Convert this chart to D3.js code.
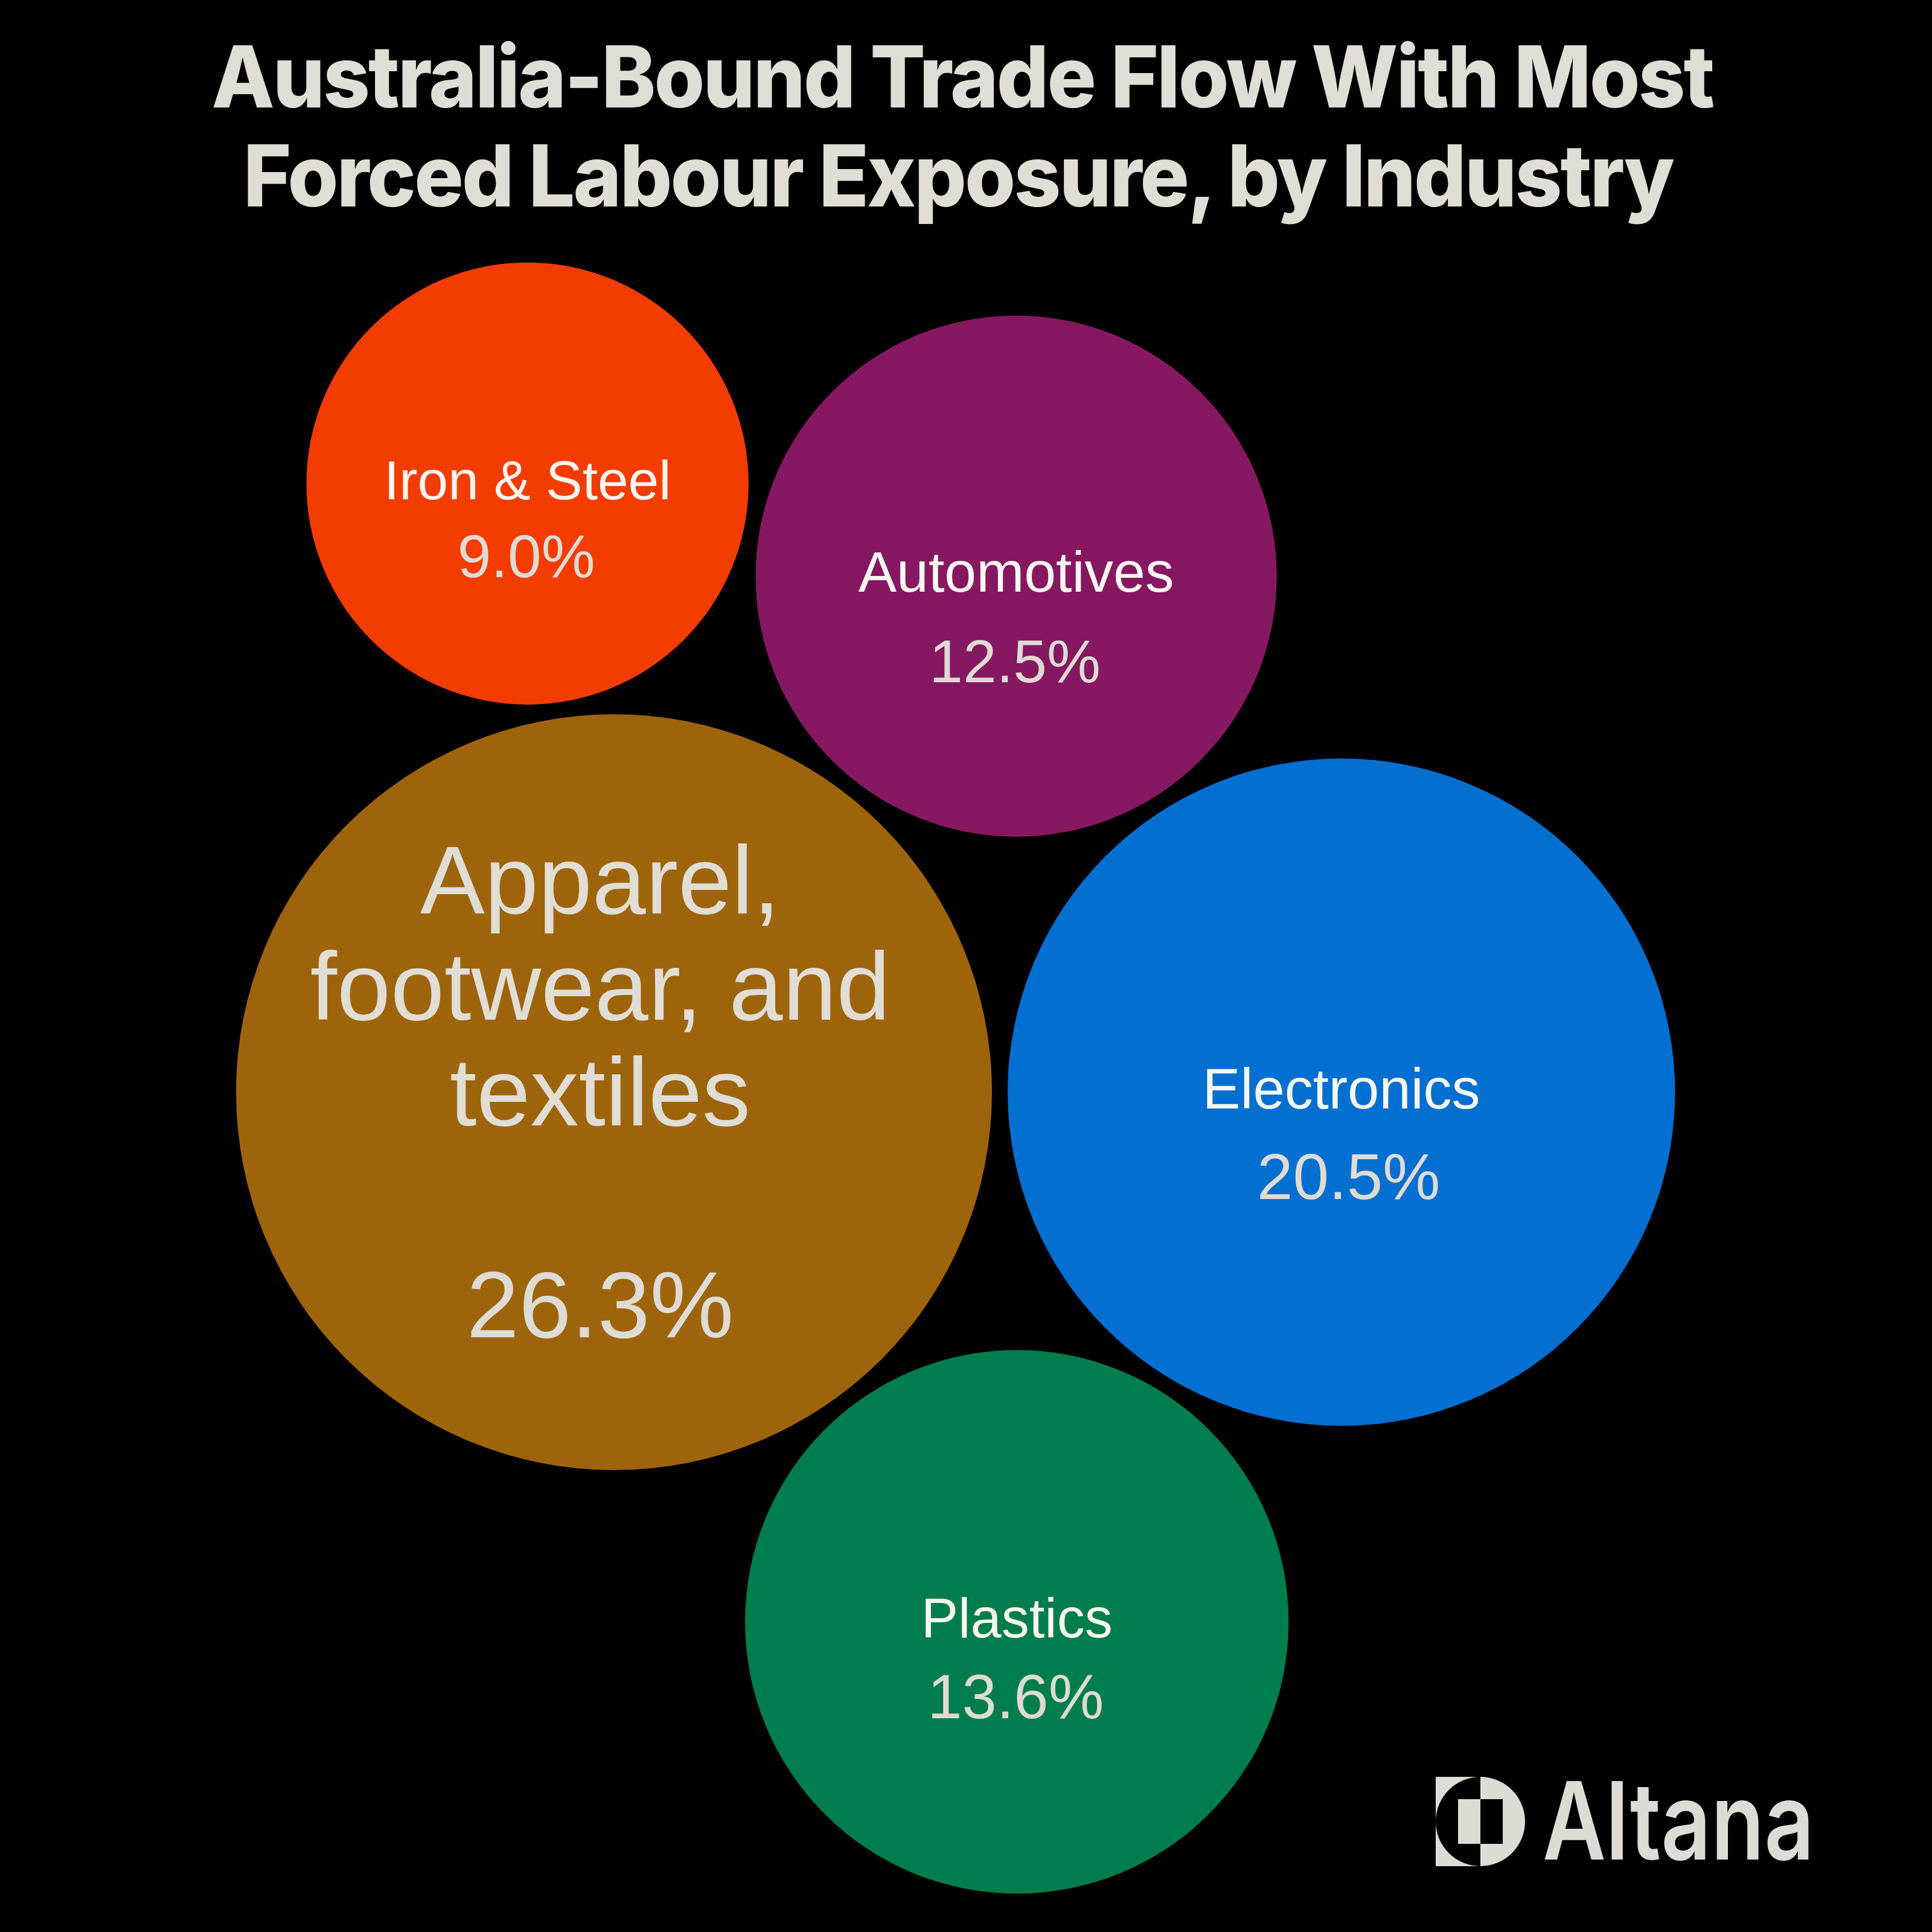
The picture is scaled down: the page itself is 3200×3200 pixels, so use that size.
<!DOCTYPE html>
<html>
<head>
<meta charset="utf-8">
<script src="https://cdn.jsdelivr.net/npm/d3@7"></script>
<style>
  html, body { margin: 0; padding: 0; background: #000; }
  svg { display: block; }
</style>
</head>
<body>
<script>
// ---- data ----
const categories = ["Iron & Steel", "Automotives", "Apparel, footwear, and textiles", "Electronics", "Plastics"];
const shares = [9.0, 12.5, 26.3, 20.5, 13.6];          // % of Australia-bound trade flow
const labelLines = [["Iron & Steel"], ["Automotives"], ["Apparel,", "footwear, and", "textiles"], ["Electronics"], ["Plastics"]];
const titleLines = ["Australia-Bound Trade Flow With Most", "Forced Labour Exposure, by Industry"];

// ---- styling ----
const colours = ["#f33c00", "#861862", "#9e640b", "#026fd1", "#007d4e"];
const W = 3200, H = 3200;
const GAP = 26;                       // space between neighbouring bubbles
const labelFont = "'Liberation Sans', Arial, Helvetica, sans-serif";
const titleFont = "Inter, 'Liberation Sans', Arial, sans-serif";

// per-bubble text layout: sizes, baseline offsets, line step and horizontal nudges
const textLayout = [
  { labelSize: 91,  valueSize: 100, valueDy: 155, lineStep: 0,     labelDy: 26,   labelDx: 0,   valueDx: -2, labelFill: "#f8f6f1" },
  { labelSize: 95,  valueSize: 100, valueDy: 176, lineStep: 0,     labelDy: 26,   labelDx: 0,   valueDx: -2, labelFill: "#f8f6f1" },
  { labelSize: 160, valueSize: 156, valueDy: 406, lineStep: 175.5, labelDy: -296, labelDx: -23, valueDx: -23, labelFill: "#e0ddd5" },
  { labelSize: 94,  valueSize: 107, valueDy: 177, lineStep: 0,     labelDy: 27,   labelDx: 0,   valueDx: 12, labelFill: "#f8f6f1" },
  { labelSize: 92,  valueSize: 103, valueDy: 160, lineStep: 0,     labelDy: 26,   labelDx: 0,   valueDx: -2, labelFill: "#f8f6f1" }
];

const svg = d3.select("body").append("svg")
  .attr("width", W).attr("height", H)
  .attr("viewBox", [0, 0, W, H]);

svg.append("rect").attr("width", W).attr("height", H).attr("fill", "#000");

// ---- title ----
const titleG = svg.append("g");
const titleSpec = [
  { x: 1594, y: 178, len: 2487 },
  { x: 1587, y: 342, len: 2368 }
];
titleG.selectAll("text").data(titleLines).join("text")
  .attr("x", (d, i) => titleSpec[i].x)
  .attr("y", (d, i) => titleSpec[i].y)
  .attr("text-anchor", "middle")
  .attr("font-family", titleFont)
  .attr("font-weight", 800)
  .attr("font-size", 142)
  .attr("letter-spacing", "-3")
  .attr("textLength", (d, i) => titleSpec[i].len)
  .attr("lengthAdjust", "spacingAndGlyphs")
  .attr("fill", "#e0ddd5")
  .text(d => d);

// ---- bubble sizes (area proportional to share) ----
const r = d3.scaleSqrt().domain([0, d3.max(shares)]).range([0, 626]);

const nodes = categories.map((c, i) => ({ name: c, value: shares[i], r: r(shares[i]), i }));
const byName = Object.fromEntries(nodes.map(n => [n.name, n]));

// place circle c touching both a and b (with GAP), on the given side of a→b
function touch(a, b, c, side) {
  const ra = a.r + c.r + GAP, rb = b.r + c.r + GAP;
  const dx = b.x - a.x, dy = b.y - a.y, d = Math.hypot(dx, dy);
  const t = (d * d + ra * ra - rb * rb) / (2 * d);
  const h = Math.sqrt(Math.max(0, ra * ra - t * t));
  const ux = dx / d, uy = dy / d;
  c.x = a.x + t * ux - side * h * uy;
  c.y = a.y + t * uy + side * h * ux;
}

const apparel = byName["Apparel, footwear, and textiles"];
const electronics = byName["Electronics"];
const automotives = byName["Automotives"];
const plastics = byName["Plastics"];
const iron = byName["Iron & Steel"];

apparel.x = 0; apparel.y = 0;
electronics.x = apparel.r + electronics.r + GAP; electronics.y = 0;
touch(apparel, electronics, automotives, -1);
touch(apparel, electronics, plastics, 1);
touch(apparel, automotives, iron, -1);

// layout origin sits on the largest bubble
const x = d3.scaleLinear().domain([0, 1]).range([1017, 1018]);
const y = d3.scaleLinear().domain([0, 1]).range([1809, 1810]);

const bubbles = svg.append("g").selectAll("g").data(nodes).join("g")
  .attr("transform", d => `translate(${x(d.x)},${y(d.y)})`);

bubbles.append("circle")
  .attr("r", d => d.r)
  .attr("fill", d => colours[d.i]);

bubbles.each(function (d) {
  const g = d3.select(this);
  const L = textLayout[d.i];
  g.selectAll("text.label").data(labelLines[d.i]).join("text")
    .attr("class", "label")
    .attr("x", L.labelDx)
    .attr("y", (t, k) => L.labelDy + k * L.lineStep)
    .attr("text-anchor", "middle")
    .attr("font-family", labelFont)
    .attr("font-size", L.labelSize)
    .attr("fill", L.labelFill)
    .text(t => t);
  g.append("text")
    .attr("class", "value")
    .attr("x", L.valueDx)
    .attr("y", L.valueDy)
    .attr("text-anchor", "middle")
    .attr("font-family", labelFont)
    .attr("font-size", L.valueSize)
    .attr("fill", "#dedbd4")
    .text(d3.format(".1f")(d.value) + "%");
});

// ---- brand mark ----
const logo = svg.append("g").attr("transform", "translate(2452,3017)");
const s = 74, inner = 37, light = "#dedbd4";
logo.append("rect").attr("x", -s).attr("y", -s).attr("width", s).attr("height", 2 * s).attr("fill", light);
logo.append("path").attr("d", `M0,${-s} A${s},${s} 0 0 0 0,${s} Z`).attr("fill", "#000");
logo.append("path").attr("d", `M0,${-s} A${s},${s} 0 0 1 0,${s} Z`).attr("fill", light);
logo.append("rect").attr("x", -inner).attr("y", -inner).attr("width", inner).attr("height", 2 * inner).attr("fill", light);
logo.append("rect").attr("x", 0).attr("y", -inner).attr("width", inner).attr("height", 2 * inner).attr("fill", "#000");

svg.append("text")
  .attr("x", 2555).attr("y", 3080)
  .attr("font-family", titleFont)
  .attr("font-weight", 600)
  .attr("font-size", 178)
  .attr("textLength", 450)
  .attr("lengthAdjust", "spacingAndGlyphs")
  .attr("fill", light)
  .text("Altana");
</script>
</body>
</html>
